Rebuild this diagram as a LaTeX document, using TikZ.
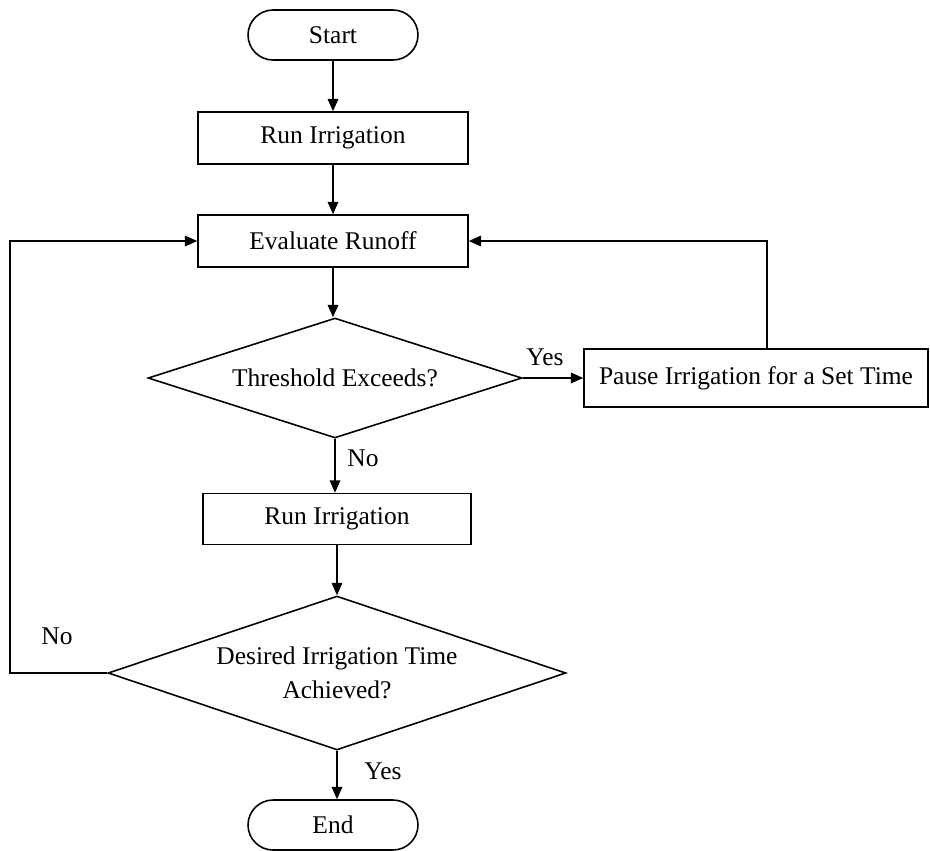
\documentclass[tikz,border=0pt]{standalone}
\usepackage{fontspec}
\setmainfont{Liberation Serif}
\usepackage{tikz}
\usetikzlibrary{arrows.meta,positioning,shapes.geometric,shapes.misc}

\tikzset{
  terminal/.style={draw,rounded rectangle,minimum width=3.4cm,minimum height=1.0cm,inner sep=0pt},
  procbox/.style={draw,rectangle,minimum width=5.4cm,minimum height=1.04cm,inner sep=0pt},
  decision/.style={draw,diamond,inner sep=0pt,align=center},
  flow/.style={-{Triangle[length=7pt,width=6pt]}},
}

\begin{document}
\begin{tikzpicture}[x=0.02cm,y=-0.02cm,line width=0.9pt,font=\fontsize{14.5}{19}\selectfont]
\useasboundingbox (0,0) rectangle (930,850);
% main column
\node[terminal] (start) at (333,35) {Start};
\node[procbox] (run1) at (333,138) {Run Irrigation};
\node[procbox] (eval) at (333,241) {Evaluate Runoff};
\node[decision,minimum width=7.48cm,minimum height=2.4cm,aspect=3.1] (thresh) at (335,378) {Threshold Exceeds?};
\node[procbox,minimum width=6.88cm,minimum height=1.16cm] (pause) at (756,378) {Pause Irrigation for a Set Time};
\node[procbox,minimum width=5.36cm,minimum height=1.02cm] (run2) at (337,519) {Run Irrigation};
\node[decision,minimum width=9.16cm,minimum height=3.08cm,aspect=3.0] (desired) at (337,673) {Desired Irrigation Time\\Achieved?};
\node[terminal] (end) at (333,825) {End};
% connectors
\draw[flow] (start) -- (run1);
\draw[flow] (run1) -- (eval);
\draw[flow] (eval.south) -- (eval.south |- thresh.north);
\draw[flow] (thresh.east) -- (pause.west);
\draw[flow] (thresh.south) -- (thresh.south |- run2.north);
\draw[flow] (run2.south) -- (run2.south |- desired.north);
\draw[flow] (desired.south) -- (desired.south |- end.north);
% loops back
\coordinate (lft) at (10,673);
\coordinate (rgt) at (767,349);
\draw[flow] (desired.west) -- (lft) |- (eval.west);
\draw[flow] (rgt) |- (eval.east);
% labels
\node (yes1) at (545,357) {Yes};
\node (no1) at (363,458) {No};
\node (no2) at (57,636) {No};
\node (yes2) at (383,771) {Yes};
\end{tikzpicture}
\end{document}
